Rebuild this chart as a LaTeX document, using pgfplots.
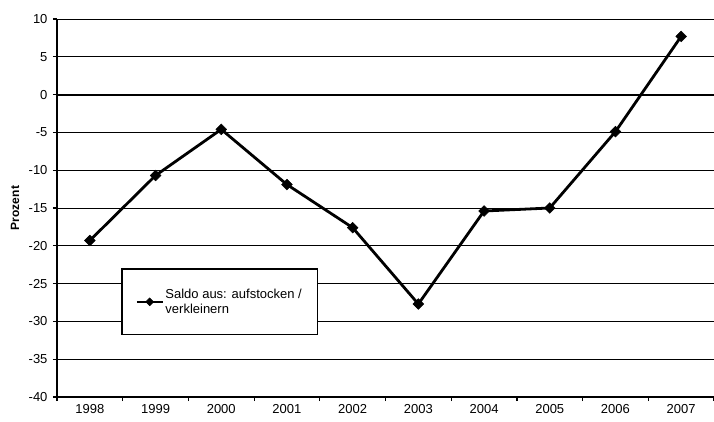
\documentclass[border=0pt]{standalone}
\usepackage{pgfplots}
\pgfplotsset{compat=1.18}
\usepackage{fontspec}
\setmainfont{Liberation Sans}
\begin{document}
\fontsize{13}{15}\selectfont
\begin{tikzpicture}
\begin{axis}[
  at={(57pt,24pt)}, anchor=south west,
  scale only axis,
  width=657pt, height=378pt,
  xmin=-0.5, xmax=9.5,
  ymin=-40, ymax=10,
  axis x line=bottom, axis y line=left,
  axis line style={-, line width=1.8pt},
  xtick={-0.5,0.5,...,9.5},
  xticklabels={},
  extra x ticks={0,...,9},
  extra x tick labels={1998,1999,2000,2001,2002,2003,2004,2005,2006,2007},
  extra x tick style={major tick length=0pt},
  ytick={-40,-35,...,10},
  yticklabels={-40,-35,-30,-25,-20,-15,-10,-5,0,5,10},
  tick align=outside,
  major tick length=4pt,
  tick style={line width=1.2pt, black},
  ymajorgrids,
  major grid style={black, line width=0.8pt},
  tick label style={font=\fontsize{13}{15}\selectfont},
  xticklabel style={yshift=-3pt},
  yticklabel style={xshift=-1pt},
  ylabel={\textbf{Prozent}},
  ylabel style={font=\fontsize{12}{14}\selectfont, at={(axis description cs:-0.064,0.5)}, anchor=center},
  legend style={at={(axis cs:0.48,-23.0)}, anchor=north west, draw=black, line width=1.3pt,
    inner xsep=14pt, inner ysep=17.5pt, font=\fontsize{13}{15}\selectfont,
    cells={anchor=west, align=left, inner xsep=1pt}},
  legend image code/.code={\draw[mark repeat=2,mark phase=2] plot coordinates {(0cm,0cm) (0.45cm,0cm) (0.9cm,0cm)};},
  legend image post style={line width=1.8pt, mark size=2.8pt},
  clip=false,
]
\draw[line width=2.2pt] (axis cs:-0.5,0) -- (axis cs:9.5,0);
\addplot[black, line width=2.8pt, mark=square*, mark size=3.8pt, mark options={rotate=45, line width=0.5pt}]
  coordinates {(0,-19.3) (1,-10.7) (2,-4.6) (3,-11.9) (4,-17.6) (5,-27.7) (6,-15.4) (7,-15.0) (8,-4.9) (9,7.7)};
\addlegendentry{Saldo aus: aufstocken /\\verkleinern}
\end{axis}
\pgfresetboundingbox
\path (0,0) rectangle (714pt,421pt);
\end{tikzpicture}
\end{document}
